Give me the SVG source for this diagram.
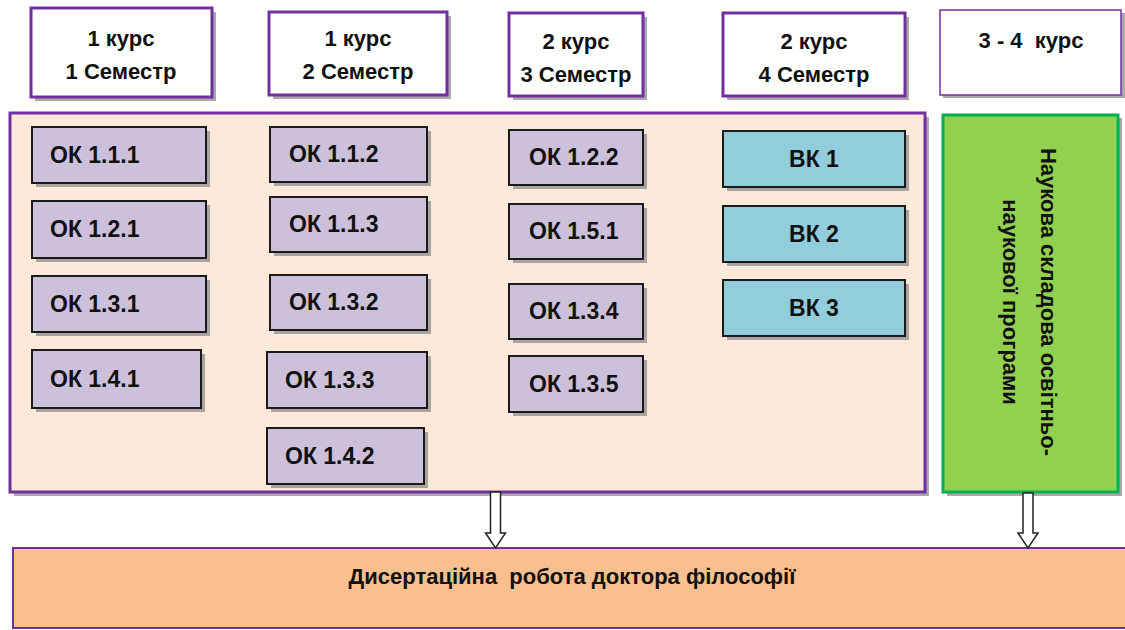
<svg xmlns="http://www.w3.org/2000/svg" width="1125" height="630" viewBox="0 0 1125 630">
<defs>
<style>
.hdr{fill:#FFFFFF;stroke:#7030A0;stroke-width:3}
.shd{fill:#8C8C8C;opacity:0.75}
.ok{fill:#CCC0DA;stroke:#1A1A1A;stroke-width:2}
.vk{fill:#92CDDC;stroke:#1A1A1A;stroke-width:2}
.t{font-family:"Liberation Sans",Arial,sans-serif;font-weight:bold;fill:#111111;white-space:pre}
.ht{font-size:22px;text-anchor:middle}
.it{font-size:23px}
.arr{fill:#FFFFFF;stroke:#222222;stroke-width:1.5}
</style>
</defs>
<rect width="1125" height="630" fill="#FFFFFF"/>

<!-- headers -->
<g id="h1"><rect class="shd" x="35" y="12" width="181" height="89"/><rect class="hdr" x="31" y="8" width="181" height="89"/>
<text class="t ht" x="121" y="46">1 курс</text><text class="t ht" x="121" y="79">1 Семестр</text></g>
<g id="h2"><rect class="shd" x="273" y="16" width="178" height="83"/><rect class="hdr" x="269" y="12" width="178" height="83"/>
<text class="t ht" x="358" y="46">1 курс</text><text class="t ht" x="358" y="79">2 Семестр</text></g>
<g id="h3"><rect class="shd" x="513" y="17" width="134" height="83"/><rect class="hdr" x="509" y="13" width="134" height="83"/>
<text class="t ht" x="576" y="49">2 курс</text><text class="t ht" x="576" y="82" textLength="111" lengthAdjust="spacingAndGlyphs">3 Семестр</text></g>
<g id="h4"><rect class="shd" x="727" y="17" width="182" height="83"/><rect class="hdr" x="723" y="13" width="182" height="83"/>
<text class="t ht" x="814" y="49">2 курс</text><text class="t ht" x="814" y="82">4 Семестр</text></g>
<g id="h5"><rect class="shd" x="943" y="13" width="182" height="85"/><rect x="940" y="10" width="181" height="85" fill="#FFFFFF" stroke="#7030A0" stroke-width="1.5"/>
<text class="t ht" x="1031" y="48">3 - 4  курс</text></g>

<!-- main container -->
<g id="container"><rect class="shd" x="14" y="117" width="915" height="379"/><rect x="10" y="113" width="915" height="379" fill="#FDE9D9" stroke="#7030A0" stroke-width="3"/></g>

<!-- column 1 -->
<g id="ok111"><rect class="shd" x="36" y="131" width="174" height="56"/><rect class="ok" x="32" y="127" width="174" height="56"/><text class="t it" x="50" y="163">ОК 1.1.1</text></g>
<g id="ok121"><rect class="shd" x="36" y="205" width="174" height="57"/><rect class="ok" x="32" y="201" width="174" height="57"/><text class="t it" x="50" y="237">ОК 1.2.1</text></g>
<g id="ok131"><rect class="shd" x="36" y="280" width="174" height="56"/><rect class="ok" x="32" y="276" width="174" height="56"/><text class="t it" x="50" y="312">ОК 1.3.1</text></g>
<g id="ok141"><rect class="shd" x="36" y="354" width="169" height="58"/><rect class="ok" x="32" y="350" width="169" height="58"/><text class="t it" x="50" y="387">ОК 1.4.1</text></g>

<!-- column 2 -->
<g id="ok112"><rect class="shd" x="274" y="131" width="157" height="55"/><rect class="ok" x="270" y="127" width="157" height="55"/><text class="t it" x="289" y="162">ОК 1.1.2</text></g>
<g id="ok113"><rect class="shd" x="274" y="201" width="157" height="55"/><rect class="ok" x="270" y="197" width="157" height="55"/><text class="t it" x="289" y="232">ОК 1.1.3</text></g>
<g id="ok132"><rect class="shd" x="274" y="279" width="157" height="55"/><rect class="ok" x="270" y="275" width="157" height="55"/><text class="t it" x="289" y="310">ОК 1.3.2</text></g>
<g id="ok133"><rect class="shd" x="271" y="356" width="160" height="56"/><rect class="ok" x="267" y="352" width="160" height="56"/><text class="t it" x="285" y="388">ОК 1.3.3</text></g>
<g id="ok142"><rect class="shd" x="271" y="432" width="157" height="56"/><rect class="ok" x="267" y="428" width="157" height="56"/><text class="t it" x="285" y="464">ОК 1.4.2</text></g>

<!-- column 3 -->
<g id="ok122"><rect class="shd" x="513" y="134" width="134" height="55"/><rect class="ok" x="509" y="130" width="134" height="55"/><text class="t it" x="529" y="165">ОК 1.2.2</text></g>
<g id="ok151"><rect class="shd" x="513" y="208" width="134" height="55"/><rect class="ok" x="509" y="204" width="134" height="55"/><text class="t it" x="529" y="239">ОК 1.5.1</text></g>
<g id="ok134"><rect class="shd" x="513" y="288" width="134" height="55"/><rect class="ok" x="509" y="284" width="134" height="55"/><text class="t it" x="529" y="319">ОК 1.3.4</text></g>
<g id="ok135"><rect class="shd" x="513" y="360" width="134" height="56"/><rect class="ok" x="509" y="356" width="134" height="56"/><text class="t it" x="529" y="392">ОК 1.3.5</text></g>

<!-- column 4 -->
<g id="vk1"><rect class="shd" x="727" y="135" width="182" height="56"/><rect class="vk" x="723" y="131" width="182" height="56"/><text class="t it" x="814" y="167" text-anchor="middle">ВК 1</text></g>
<g id="vk2"><rect class="shd" x="727" y="210" width="182" height="56"/><rect class="vk" x="723" y="206" width="182" height="56"/><text class="t it" x="814" y="242" text-anchor="middle">ВК 2</text></g>
<g id="vk3"><rect class="shd" x="727" y="284" width="182" height="56"/><rect class="vk" x="723" y="280" width="182" height="56"/><text class="t it" x="814" y="316" text-anchor="middle">ВК 3</text></g>

<!-- green science box -->
<g id="science"><rect class="shd" x="947" y="118" width="175" height="378"/><rect x="943" y="115" width="175" height="377" fill="#92D050" stroke="#00B050" stroke-width="3"/>
<text class="t" font-size="22" text-anchor="middle" transform="translate(1041,302) rotate(90)">Наукова складова освітньо-</text>
<text class="t" font-size="22" text-anchor="middle" transform="translate(1003,302) rotate(90)">наукової програми</text></g>

<!-- dissertation -->
<g id="dissertation"><rect x="13" y="548" width="1120" height="80" fill="#F9BF8F" stroke="#7030A0" stroke-width="2"/>
<text class="t" font-size="22" x="572" y="584" text-anchor="middle">Дисертаційна  робота доктора філософії</text></g>

<!-- connectors -->
<g id="connectors">
<polygon class="arr" points="490.5,492 500.5,492 500.5,533 505.5,533 495.5,548 485.5,533 490.5,533"/>
<polygon class="arr" points="1023,493 1033,493 1033,533 1038,533 1028,548 1018,533 1023,533"/>
</g>
</svg>
